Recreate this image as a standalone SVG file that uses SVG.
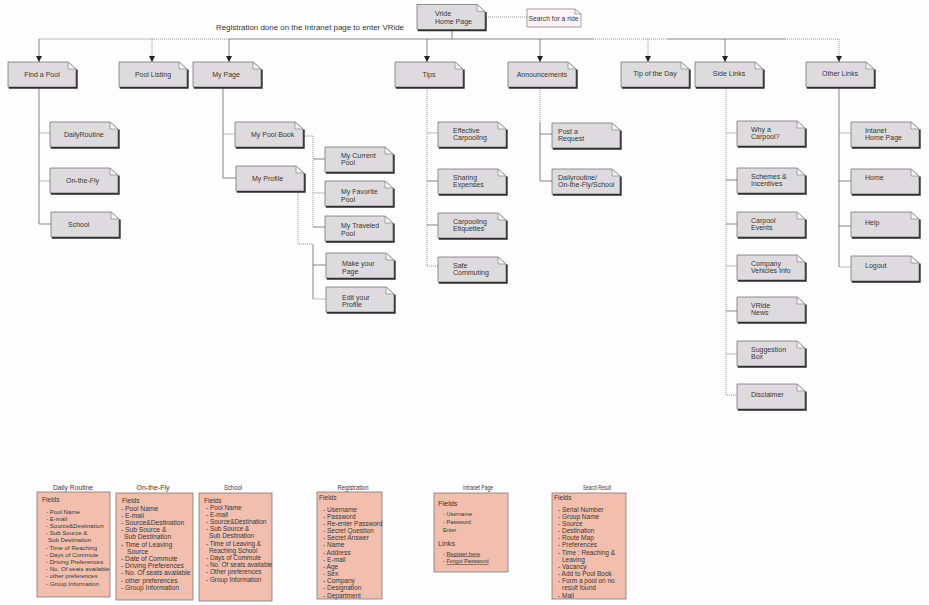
<svg xmlns="http://www.w3.org/2000/svg" width="929" height="605" viewBox="0 0 929 605">
<style>
text{font-family:"Liberation Sans",Arial,sans-serif;fill:#363636}
.t{font-size:7px}
.c{text-anchor:middle}
.bx{fill:#dedbde;stroke:#666;stroke-width:0.7}
.fold{fill:#f3f3f3;stroke:#777;stroke-width:0.6}
.sh{fill:none;stroke:#2e2e2e;stroke-width:1.6}
.ln{fill:none;stroke:#666;stroke-width:0.8}
.lt{fill:none;stroke:#aaa;stroke-width:0.8}
.dt{fill:none;stroke:#777;stroke-width:0.8;stroke-dasharray:1 1}
.pk{fill:#f2bfae;stroke:#7a7a7a;stroke-width:0.8}
.ttl{font-size:7px;text-anchor:middle}
.fd{font-size:6.6px}
</style>
<defs>
<marker id="arr" viewBox="0 0 6 6" refX="6" refY="3" markerWidth="6" markerHeight="6" orient="auto" markerUnits="userSpaceOnUse"><path d="M0,0 L6,3 L0,6 z" fill="#222"/></marker>
<g id="box">
<path class="bx" d="M0,0 H60 L68,7 V25 H0 Z"/>
<path class="fold" d="M60,0 L68,7 H60 Z"/>
<path class="sh" d="M68.9,7.5 V25.9 H0.8"/>
</g>
</defs>
<rect width="929" height="605" fill="#fefdfe"/>

<g id="connectors">
<path class="lt" d="M39,39 H152"/>
<path class="dt" d="M152,39 H229"/>
<path class="ln" d="M229,39 H593"/>
<path class="dt" d="M593,39 H667"/>
<path class="ln" d="M667,39 H785"/>
<path class="dt" d="M785,39 H839"/>
<path class="ln" d="M452,29 V39"/>
<path class="dt" d="M486,17 H527"/>
<path class="ln" d="M39,39 V62" marker-end="url(#arr)"/>
<path class="dt" d="M152,39 V62" marker-end="url(#arr)"/>
<path class="ln" d="M229,39 V62" marker-end="url(#arr)"/>
<path class="ln" d="M427,39 V62" marker-end="url(#arr)"/>
<path class="ln" d="M540,39 V62" marker-end="url(#arr)"/>
<path class="dt" d="M648,39 V62" marker-end="url(#arr)"/>
<path class="ln" d="M725,39 V62" marker-end="url(#arr)"/>
<path class="dt" d="M839,39 V62" marker-end="url(#arr)"/>
<path class="ln" d="M39,88 V224 H51"/>
<path class="lt" d="M39,133 H50 M39,181 H50"/>
<path class="ln" d="M223,88 V178 H236"/>
<path class="lt" d="M223,134 H235"/>
<path class="lt" d="M304,136 H313"/>
<path class="dt" d="M313,136 V227"/>
<path class="ln" d="M313,159 H325 M313,227 H325"/>
<path class="lt" d="M313,193 H325"/>
<path class="dt" d="M298,191 V244 H313"/>
<path class="ln" d="M313,244 V299"/>
<path class="ln" d="M313,265 H326"/>
<path class="lt" d="M313,299 H326"/>
<path class="dt" d="M427,88 V266 H438"/>
<path class="lt" d="M427,133 H438"/>
<path class="ln" d="M427,181 H438 M427,225 H438"/>
<path class="dt" d="M540,88 V122"/>
<path class="ln" d="M540,122 V181 H552"/>
<path class="ln" d="M540,134 H552"/>
<path class="dt" d="M726,88 V395 H737"/>
<path class="lt" d="M726,133 H737 M726,266 H737 M726,354 H737"/>
<path class="ln" d="M726,180 H737 M726,224 H737 M726,311 H737"/>
<path class="ln" d="M839,88 V267"/>
<path class="lt" d="M839,133 H851 M839,267 H851"/>
<path class="ln" d="M839,181 H851 M839,226 H851"/>
</g>

<text x="216" y="29.5" font-size="7.5" textLength="188" lengthAdjust="spacingAndGlyphs">Registration done on the Intranet page to enter VRide</text>

<g id="n-home"><use href="#box" x="417" y="4.5"/><text class="t" x="435" y="15.5">Vride</text><text class="t" x="435" y="23.5">Home Page</text></g>
<g id="n-search"><path d="M527,9 H575 L581,14 V27 H527 Z" fill="#fdf4f8" stroke="#777" stroke-width="0.7"/><path d="M575,9 V14 H581" fill="none" stroke="#777" stroke-width="0.6"/><text x="528.5" y="20.5" font-size="6.5" textLength="50" lengthAdjust="spacingAndGlyphs">Search for a ride</text></g>

<g id="n-findpool"><use href="#box" x="8" y="62"/><text class="t c" x="42" y="77">Find a Pool</text></g>
<g id="n-poollisting"><use href="#box" x="119" y="62"/><text class="t c" x="153" y="76.5">Pool Listing</text></g>
<g id="n-mypage"><use href="#box" x="193" y="62"/><text class="t c" x="226" y="77">My Page</text></g>
<g id="n-tips"><use href="#box" x="395" y="62"/><text class="t c" x="429" y="76.5">Tips</text></g>
<g id="n-announcements"><use href="#box" x="508" y="62"/><text class="t c" x="542" y="77">Announcements</text></g>
<g id="n-tipofday"><use href="#box" x="621" y="62"/><text class="t c" x="655" y="76">Tip of the Day</text></g>
<g id="n-sidelinks"><use href="#box" x="695" y="62"/><text class="t c" x="729" y="76">Side Links</text></g>
<g id="n-otherlinks"><use href="#box" x="806" y="62"/><text class="t c" x="840" y="76">Other Links</text></g>

<g id="n-dailyroutine"><use href="#box" x="50" y="122"/><text class="t" x="64" y="136.5">DailyRoutine</text></g>
<g id="n-onthefly"><use href="#box" x="50" y="168"/><text class="t" x="66" y="183">On-the-Fly</text></g>
<g id="n-school"><use href="#box" x="51" y="212"/><text class="t" x="68" y="226.5">School</text></g>

<g id="n-mypoolbook"><use href="#box" x="235" y="122"/><text class="t" x="251" y="136.5">My Pool Book</text></g>
<g id="n-myprofile"><use href="#box" x="236" y="166"/><text class="t" x="252" y="180.5">My Profile</text></g>
<g id="n-mycurrentpool"><use href="#box" x="325" y="147"/><text class="t" x="341" y="157.5">My Current</text><text class="t" x="341" y="165.3">Pool</text></g>
<g id="n-myfavoritepool"><use href="#box" x="325" y="181"/><text class="t" x="341" y="194">My Favorite</text><text class="t" x="341" y="201.8">Pool</text></g>
<g id="n-mytraveledpool"><use href="#box" x="325" y="216"/><text class="t" x="341" y="228">My Traveled</text><text class="t" x="341" y="235.8">Pool</text></g>
<g id="n-makeyourpage"><use href="#box" x="326" y="253"/><text class="t" x="342" y="266">Make your</text><text class="t" x="342" y="273.8">Page</text></g>
<g id="n-edityourprofile"><use href="#box" x="326" y="287"/><text class="t" x="342" y="299.5">Edit your</text><text class="t" x="342" y="307.3">Profile</text></g>

<g id="n-effective"><use href="#box" x="438" y="122"/><text class="t" x="453" y="132.5">Effective</text><text class="t" x="453" y="140.3">Carpooling</text></g>
<g id="n-sharing"><use href="#box" x="438" y="169"/><text class="t" x="453" y="179.5">Sharing</text><text class="t" x="453" y="187.3">Expenses</text></g>
<g id="n-etiquettes"><use href="#box" x="438" y="213"/><text class="t" x="453" y="223.5">Carpooling</text><text class="t" x="453" y="231.3">Etiquettes</text></g>
<g id="n-safe"><use href="#box" x="438" y="257"/><text class="t" x="453" y="267.5">Safe</text><text class="t" x="453" y="275.3">Commuting</text></g>

<g id="n-postrequest"><use href="#box" x="552" y="123"/><text class="t" x="558" y="133.5">Post a</text><text class="t" x="558" y="141.3">Request</text></g>
<g id="n-dailyroutine2"><use href="#box" x="552" y="169"/><text class="t" x="558" y="179.5">Dailyroutine/</text><text class="t" x="558" y="187.3">On-the-Fly/School</text></g>

<g id="n-whycarpool"><use href="#box" x="737" y="121"/><text class="t" x="751" y="131.5">Why a</text><text class="t" x="751" y="139.3">Carpool?</text></g>
<g id="n-schemes"><use href="#box" x="737" y="168"/><text class="t" x="751" y="178.5">Schemes &amp;</text><text class="t" x="751" y="186.3">Incentives</text></g>
<g id="n-events"><use href="#box" x="737" y="212"/><text class="t" x="751" y="222.5">Carpool</text><text class="t" x="751" y="230.3">Events</text></g>
<g id="n-vehicles"><use href="#box" x="737" y="255"/><text class="t" x="751" y="265.5">Company</text><text class="t" x="751" y="273.3">Vehicles Info</text></g>
<g id="n-news"><use href="#box" x="737" y="297"/><text class="t" x="751" y="307.5">VRide</text><text class="t" x="751" y="315.3">News</text></g>
<g id="n-suggestion"><use href="#box" x="737" y="341"/><text class="t" x="751" y="351.5">Suggestion</text><text class="t" x="751" y="359.3">Box</text></g>
<g id="n-disclaimer"><use href="#box" x="737" y="384"/><text class="t" x="751" y="396.5">Disclaimer</text></g>

<g id="n-intranethome"><use href="#box" x="851" y="122"/><text class="t" x="865" y="132.5">Intanet</text><text class="t" x="865" y="140.3">Home Page</text></g>
<g id="n-home2"><use href="#box" x="851" y="169"/><text class="t" x="865" y="179.5">Home</text></g>
<g id="n-help"><use href="#box" x="851" y="212"/><text class="t" x="865" y="224.5">Help</text></g>
<g id="n-logout"><use href="#box" x="851" y="256"/><text class="t" x="865" y="268">Logout</text></g>

<g id="p-dailyroutine">
<text class="ttl" x="73" y="489.5" textLength="40" lengthAdjust="spacingAndGlyphs">Daily Routine</text>
<rect class="pk" x="37" y="492" width="73" height="105"/>
<text class="fd" x="42" y="501.5">Fields</text>
<g font-size="6.1">
<text x="46" y="513.5">- Pool Name</text>
<text x="46" y="520.7">- E-mail</text>
<text x="46" y="527.9">- Source&amp;Destination</text>
<text x="46" y="535.1">- Sub Source &amp;</text>
<text x="48" y="542.3">Sub Destination</text>
<text x="46" y="549.5">- Time of Reaching</text>
<text x="46" y="556.7">- Days of Commute</text>
<text x="46" y="563.9">- Driving Preferences</text>
<text x="46" y="571.1">- No. Of seats available</text>
<text x="46" y="578.3">- other preferences</text>
<text x="46" y="585.5">- Group Information</text>
</g>
</g>

<g id="p-onthefly">
<text class="ttl" x="153" y="489.5" textLength="33" lengthAdjust="spacingAndGlyphs">On-the-Fly</text>
<rect class="pk" x="116" y="493" width="77" height="107"/>
<text class="fd" x="122" y="503">Fields</text>
<g font-size="6.7">
<text x="121" y="510.5">- Pool Name</text>
<text x="121" y="517.7">- E-mail</text>
<text x="121" y="524.9">- Source&amp;Destination</text>
<text x="121" y="532.1">- Sub Source &amp;</text>
<text x="124" y="539.3">Sub Destination</text>
<text x="121" y="546.5">- Time of Leaving</text>
<text x="127" y="553.7">Source</text>
<text x="121" y="560.9">- Date of Commute</text>
<text x="121" y="568.1">- Driving Preferences</text>
<text x="121" y="575.3">- No. Of seats available</text>
<text x="121" y="582.5">- other preferences</text>
<text x="121" y="589.7">- Group Information</text>
</g>
</g>

<g id="p-school">
<text class="ttl" x="233" y="489.5" textLength="18" lengthAdjust="spacingAndGlyphs">School</text>
<rect class="pk" x="199" y="493" width="73" height="108"/>
<text class="fd" x="204" y="503">Fields</text>
<g font-size="6.4">
<text x="206" y="509.5">- Pool Name</text>
<text x="206" y="516.7">- E-mail</text>
<text x="206" y="523.9">- Source&amp;Destination</text>
<text x="206" y="531.1">- Sub Source &amp;</text>
<text x="209" y="538.3">Sub Destination</text>
<text x="206" y="545.5">- Time of Leaving &amp;</text>
<text x="209" y="552.7">Reaching School</text>
<text x="206" y="559.9">- Days of Commute</text>
<text x="206" y="567.1">- No. Of seats available</text>
<text x="206" y="574.3">- Other preferences</text>
<text x="206" y="581.5">- Group Information</text>
</g>
</g>

<g id="p-registration">
<text class="ttl" x="353" y="489.5" textLength="31" lengthAdjust="spacingAndGlyphs">Registration</text>
<rect class="pk" x="317" y="492" width="65" height="107"/>
<text class="fd" x="319" y="499.5">Fields</text>
<g font-size="6.5">
<text x="323" y="511.5">- Username</text>
<text x="323" y="518.7">- Password</text>
<text x="323" y="525.8">- Re-enter Password</text>
<text x="323" y="533">- Secret Question</text>
<text x="323" y="540.2">- Secret Answer</text>
<text x="323" y="547.3">- Name</text>
<text x="323" y="554.5">- Address</text>
<text x="323" y="561.7">- E-mail</text>
<text x="323" y="568.8">- Age</text>
<text x="323" y="576">- Sex</text>
<text x="323" y="583.2">- Company</text>
<text x="323" y="590.3">- Designation</text>
<text x="323" y="597.5">- Department</text>
</g>
</g>

<g id="p-intranet">
<text class="ttl" x="478" y="489.5" textLength="30" lengthAdjust="spacingAndGlyphs">Intranet Page</text>
<rect class="pk" x="434" y="493" width="74" height="79"/>
<text x="438" y="506" font-size="7.3">Fields</text>
<g font-size="5.6">
<text x="443" y="516">- Username</text>
<text x="443" y="524.3">- Password</text>
<text x="443" y="532.3">Enter</text>
</g>
<text x="438" y="546" font-size="7.3">Links</text>
<g font-size="5.6">
<text x="443" y="555.5">- <tspan text-decoration="underline">Register here</tspan></text>
<text x="443" y="563.3">- <tspan text-decoration="underline">Forgot Password</tspan></text>
</g>
</g>

<g id="p-search">
<text class="ttl" x="597" y="489.5" textLength="28" lengthAdjust="spacingAndGlyphs">Search Result</text>
<rect class="pk" x="552" y="493" width="74" height="106"/>
<text class="fd" x="554" y="499.5">Fields</text>
<g font-size="6.5">
<text x="558" y="511.5">- Serial Number</text>
<text x="558" y="518.7">- Group Name</text>
<text x="558" y="525.8">- Source</text>
<text x="558" y="533">- Destination</text>
<text x="558" y="540.2">- Route Map</text>
<text x="558" y="547.3">- Preferences</text>
<text x="558" y="554.5">- Time : Reaching &amp;</text>
<text x="562" y="561.7">Leaving</text>
<text x="558" y="568.8">- Vacancy</text>
<text x="558" y="576">- Add to Pool Book</text>
<text x="558" y="583.2">- Form a pool on no</text>
<text x="562" y="590.3">result found</text>
<text x="558" y="597.5">- Mail</text>
</g>
</g>
</svg>
